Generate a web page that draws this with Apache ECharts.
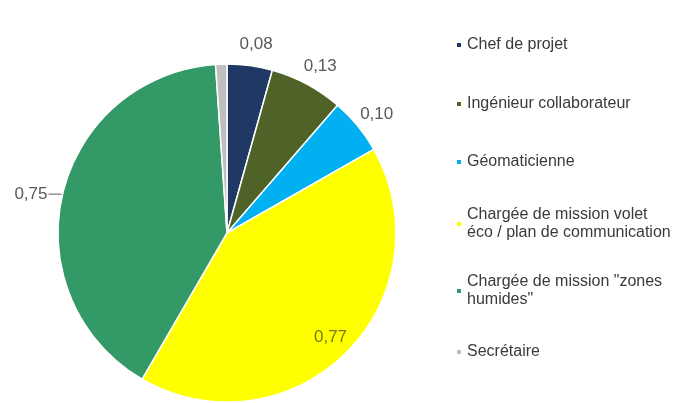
<!DOCTYPE html>
<html><head><meta charset="utf-8">
<script src="https://cdn.jsdelivr.net/npm/echarts@6/dist/echarts.min.js"></script>
<style>html,body{margin:0;padding:0;background:#fff}#c{width:680px;height:403px}</style>
</head><body><div id="c"></div>
<script>
const categories = ['Chef de projet', 'Ingénieur collaborateur', 'Géomaticienne',
  'Chargée de mission volet\néco / plan de communication',
  'Chargée de mission "zones\nhumides"', 'Secrétaire'];
const values = [0.08, 0.13, 0.10, 0.77, 0.75, 0.02];
const colors = ['#1f3864', '#4f6228', '#00b0f0', '#ffff00', '#339966', '#bfbfbf'];

const fmt = v => v.toFixed(2).replace('.', ',');
const CX = 227, CY = 233, R = 169;
const labelFont = { fontFamily: 'Liberation Sans, Arial, sans-serif', fontSize: 17, color: '#595959' };

const mainData = categories.map((n, i) => ({
  name: n, value: values[i],
  itemStyle: { color: colors[i] },
  label: i === 4 ? { show: true, position: 'outside', formatter: p => fmt(p.value), distanceToLabelLine: 1, ...labelFont } : { show: false },
  labelLine: i === 4 ? { show: true, length: 2, length2: 12, lineStyle: { color: '#595959', width: 1 } } : { show: false }
}));
const outerData = categories.map((n, i) => ({
  name: n, value: values[i],
  label: { show: i <= 2 }
}));
const innerData = categories.map((n, i) => ({
  name: n, value: values[i],
  label: { show: i === 3 }
}));

const legendTops = [36, 95, 153, 197, 264, 343];
const legends = categories.map((n, i) => ({
  data: [n], left: 455, top: legendTops[i], orient: 'vertical', padding: 0,
  icon: 'rect', itemWidth: 6, itemHeight: 6, selectedMode: false,
  textStyle: Object.assign({ fontFamily: 'Liberation Sans, Arial, sans-serif', fontSize: 16, color: '#3a3a3a', lineHeight: 18 },
    n.indexOf('\n') >= 0 ? { padding: [18, 0, 0, 0] } : {})
}));

const overlay = (radius, data, color, start) => ({
  type: 'pie', center: [CX, CY], radius, startAngle: start, clockwise: true, silent: true,
  avoidLabelOverlap: false, data,
  itemStyle: { color: 'rgba(0,0,0,0)' },
  label: { position: 'inside', formatter: p => fmt(p.value), ...labelFont, color },
  labelLine: { show: false }, emphasis: { disabled: true }
});

const chart = echarts.init(document.getElementById('c'), null, { renderer: 'canvas' });
chart.setOption({
  animation: false,
  legend: legends,
  series: [
    {
      type: 'pie', center: [CX, CY], radius: R, startAngle: 90, clockwise: true,
      avoidLabelOverlap: false, data: mainData,
      itemStyle: { borderColor: '#ffffff', borderWidth: 1.5 },
      emphasis: { disabled: true }
    },
    overlay([176, 200], outerData, '#595959', 89),
    overlay([130, 158], innerData, '#7a7a10', 90)
  ]
});
</script></body></html>
